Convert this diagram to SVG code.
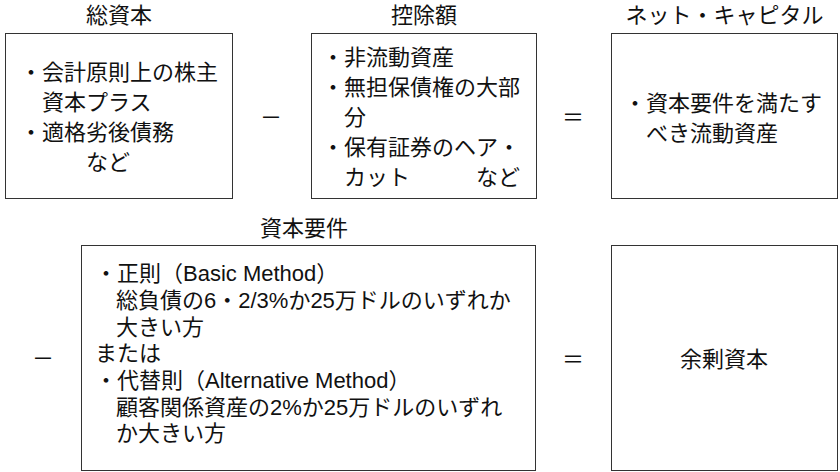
<svg xmlns="http://www.w3.org/2000/svg" width="840" height="472" viewBox="0 0 840 472">
<style>
.box{fill:#fff;stroke:#333;stroke-width:1}
text{font-family:"Liberation Sans","Noto Sans CJK JP",sans-serif;font-size:22px;fill:#111}
.c{text-anchor:middle}
.op{font-family:"Noto Sans CJK JP",sans-serif;text-anchor:middle}
</style>
<rect width="840" height="472" fill="#fff"/>
<g id="total-capital">
<text class="c" x="119" y="23">総資本</text>
<rect class="box" x="5.5" y="33.5" width="227" height="165"/>
<text x="20" y="80">・会計原則上の株主</text>
<text x="42" y="110">資本プラス</text>
<text x="20" y="140">・適格劣後債務</text>
<text x="86" y="170">など</text>
</g>
<g id="deductions">
<text class="c" x="424" y="23">控除額</text>
<rect class="box" x="311.5" y="33.5" width="225" height="165"/>
<text x="322" y="65">・非流動資産</text>
<text x="322" y="95">・無担保債権の大部</text>
<text x="344" y="125">分</text>
<text x="322" y="155">・保有証券のヘア・</text>
<text x="344" y="185">カット</text>
<text x="476" y="185">など</text>
</g>
<g id="net-capital">
<text class="c" x="724.5" y="23">ネット・キャピタル</text>
<rect class="box" x="611.5" y="33.5" width="226" height="165"/>
<text x="624" y="111">・資本要件を満たす</text>
<text x="646" y="141">べき流動資産</text>
</g>
<g id="capital-requirement">
<text class="c" x="304" y="236">資本要件</text>
<rect class="box" x="81.5" y="245.5" width="454" height="225"/>
<text x="95" y="281">・正則（Basic Method）</text>
<text x="116" y="308">総負債の6・2/3%か25万ドルのいずれか</text>
<text x="116" y="335">大きい方</text>
<text x="95" y="361">または</text>
<text x="95" y="388">・代替則（Alternative Method）</text>
<text x="116" y="415">顧客関係資産の2%か25万ドルのいずれ</text>
<text x="116" y="441">か大きい方</text>
</g>
<g id="excess-capital">
<rect class="box" x="611.5" y="245.5" width="226" height="225"/>
<text class="c" x="724" y="367">余剰資本</text>
</g>
<g id="connectors">
<text class="op" x="271" y="125">－</text>
<text class="op" x="573" y="125">＝</text>
<text class="op" x="43" y="366">－</text>
<text class="op" x="573" y="367">＝</text>
</g>
</svg>
